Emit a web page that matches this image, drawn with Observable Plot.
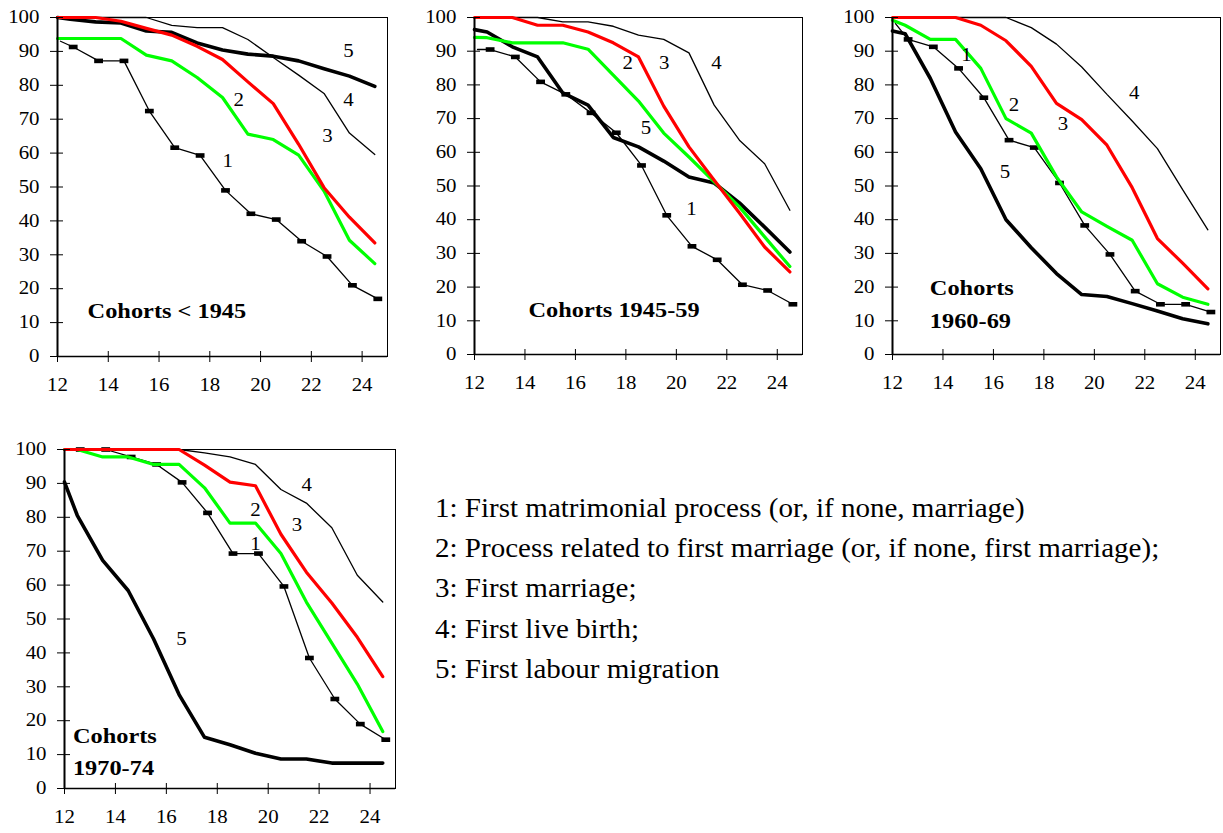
<!DOCTYPE html>
<html>
<head>
<meta charset="utf-8">
<script src="https://cdn.jsdelivr.net/npm/d3@7"></script>
<script src="https://cdn.jsdelivr.net/npm/@observablehq/plot@0.6"></script>
<style>
html, body { margin: 0; padding: 0; background: #fff; overflow: hidden; width: 1223px; height: 833px; }
#root { position: relative; width: 1223px; height: 833px; }
.panel { position: absolute; }
#legend { position: absolute; left: 435px; top: 488px; font-family: "Liberation Serif", "Times New Roman", serif; font-size: 27px; line-height: 40.2px; color: #000; white-space: nowrap; transform: scaleX(1.075); transform-origin: 0 0; }
</style>
</head>
<body>
<div id="root"><div id="legend"></div></div>
<script>
// ---------- shared axes ----------
const ages = [12, 12.5, 13.5, 14.5, 15.5, 16.5, 17.5, 18.5, 19.5, 20.5, 21.5, 22.5, 23.5, 24.5];
const xTicks = [12, 14, 16, 18, 20, 22, 24];
const yTicks = [0, 10, 20, 30, 40, 50, 60, 70, 80, 90, 100];
const seriesIds = ["1", "2", "3", "4", "5"];
const legendLines = [
  "1: First matrimonial process (or, if none, marriage)",
  "2: Process related to first marriage (or, if none, first marriage);",
  "3: First marriage;",
  "4: First live birth;",
  "5: First labour migration"
];

// ---------- Cohorts < 1945 ----------
const c1945_s1 = [93, 91.3, 87.2, 87.2, 72.4, 61.6, 59.3, 49, 42.1, 40.4, 34, 29.5, 21, 17];
const c1945_s2 = [93.8, 93.8, 93.8, 93.8, 88.9, 87.2, 82.3, 76.4, 65.6, 64, 59.4, 48.8, 34.3, 27.4];
const c1945_s3 = [100, 100, 100, 98.9, 96.8, 94.8, 91.5, 87.6, 81, 74.6, 62.6, 49.8, 41.1, 33.5];
const c1945_s4 = [100, 100, 100, 100, 100, 97.7, 97, 97, 93.5, 88.2, 83, 77.6, 65.9, 59.6];
const c1945_s5 = [100, 99.5, 98.7, 98.4, 96, 95.6, 92.5, 90.4, 89.2, 88.6, 87.2, 84.9, 82.7, 79.7];
const c1945_labelAge = [18.71, 19.14, 22.64, 23.46, 23.46];
const c1945_labelValue = [57.6, 75.6, 65, 75.6, 90.1];

// ---------- Cohorts 1945-59 ----------
const c4559_s1 = [90.5, 90.5, 88.3, 80.9, 77.2, 71.7, 65.8, 56.1, 41.3, 32.1, 28.1, 20.7, 19, 14.9];
const c4559_s2 = [94.1, 94, 92.5, 92.5, 92.5, 90.6, 82.9, 75.2, 65.7, 58.6, 51.2, 43.8, 34.9, 26.1];
const c4559_s3 = [100, 100, 100, 97.7, 97.7, 95.7, 92.5, 88.3, 73.7, 61.6, 51.7, 42, 31.9, 24.5];
const c4559_s4 = [100, 100, 100, 100, 98.7, 98.7, 97.4, 94.8, 93.5, 89.5, 74, 63.6, 56.6, 42.8];
const c4559_s5 = [96.4, 95.7, 91.3, 88.3, 77.6, 74, 64.4, 61.6, 57.4, 52.7, 50.9, 45, 37.8, 30.4];
const c4559_labelAge = [20.6, 18.07, 19.52, 21.59, 18.8];
const c4559_labelValue = [43, 86.3, 86.3, 86.3, 67.2];

// ---------- Cohorts 1960-69 ----------
const c6069_s1 = [98.2, 93.5, 91.3, 84.9, 76.2, 63.6, 61.4, 50.9, 38.3, 29.7, 18.8, 14.9, 14.9, 12.6];
const c6069_s2 = [99.2, 97.7, 93.5, 93.5, 84.9, 70, 65.7, 52.7, 42.3, 38, 33.9, 21, 17, 14.9];
const c6069_s3 = [100, 100, 100, 100, 97.7, 93.1, 85.5, 74.5, 69.7, 62.1, 49.5, 34.4, 27.1, 19.5];
const c6069_s4 = [100, 100, 100, 100, 100, 100, 97, 92.1, 85.3, 77.2, 69.3, 61.1, 48.9, 37];
const c6069_s5 = [96, 95.2, 81.9, 66, 55.1, 40, 31.7, 24, 17.8, 17.2, 15.1, 12.9, 10.6, 9.1];
const c6069_labelAge = [14.93, 16.81, 18.76, 21.58, 16.46];
const c6069_labelValue = [88.8, 74, 68.3, 77.6, 54.1];

// ---------- Cohorts 1970-74 ----------
const c7074_s1 = [100, 100, 100, 97.8, 95.6, 90.3, 81.3, 69.3, 69.3, 59.6, 38.5, 26.4, 19, 14.4];
const c7074_s2 = [100, 100, 97.8, 97.8, 95.6, 95.6, 88.7, 78.3, 78.3, 69.3, 55, 42.9, 30.8, 16.8];
const c7074_s3 = [100, 100, 100, 100, 100, 100, 95.4, 90.4, 89.3, 75, 63.8, 54.7, 44.6, 33];
const c7074_s4 = [100, 100, 100, 100, 100, 100, 99, 97.8, 95.6, 88.2, 84.2, 76.9, 62.9, 55];
const c7074_s5 = [90.4, 80.6, 67.3, 58.4, 44.1, 27.7, 15.1, 12.9, 10.4, 8.7, 8.7, 7.5, 7.5, 7.5];
const c7074_labelAge = [19.5, 19.5, 21.13, 21.51, 16.59];
const c7074_labelValue = [72.1, 82, 77.8, 89.4, 44.1];

// ---------- drawing ----------
const dashSymbol = {
  draw(ctx) {
    ctx.moveTo(-4.4, -2.3); ctx.lineTo(4.4, -2.3); ctx.lineTo(4.4, 2.3); ctx.lineTo(-4.4, 2.3); ctx.closePath();
  }
};
const FONT = '"Liberation Serif", "Times New Roman", serif';
const TEXT_STRETCH = 1.16;

function stretchTexts(svg, factor) {
  svg.querySelectorAll("text").forEach(t => {
    const tr = t.getAttribute("transform");
    if (tr && /translate/.test(tr)) {
      t.setAttribute("transform", tr + ` scale(${factor},1)`);
    } else {
      const x = +(t.getAttribute("x") || 0), y = +(t.getAttribute("y") || 0);
      t.setAttribute("x", 0); t.setAttribute("y", 0);
      t.setAttribute("transform", `translate(${x},${y}) scale(${factor},1)` + (tr ? " " + tr : ""));
    }
  });
}

function drawPanel(cfg) {
  const rows = [];
  cfg.series.forEach((vals, i) => vals.forEach((v, j) => rows.push({age: ages[j], value: v, s: i + 1})));
  const sel = k => rows.filter(d => d.s === k);
  const labels = seriesIds.map((t, i) => ({text: t, age: cfg.labelAge[i], value: cfg.labelValue[i]}));
  const chart = Plot.plot({
    width: cfg.width, height: cfg.height,
    marginLeft: cfg.ml, marginRight: cfg.mr, marginTop: cfg.mt, marginBottom: cfg.mb,
    x: {domain: [12, 25], label: null},
    y: {domain: [0, 100], label: null},
    style: {fontFamily: FONT, fontSize: "18px", color: "#000", background: "transparent", overflow: "visible"},
    marks: [
      Plot.frame({stroke: "#000", strokeWidth: 1}),
      Plot.line(sel(4), {x: "age", y: "value", stroke: "#000", strokeWidth: 1.3, strokeLinejoin: "miter"}),
      Plot.line(sel(1), {x: "age", y: "value", stroke: "#000", strokeWidth: 1.3, dx: 3, strokeLinejoin: "miter"}),
      Plot.dot(sel(1).slice(1), {x: "age", y: "value", symbol: dashSymbol, r: 3, fill: "#000", stroke: "none", dx: 3}),
      Plot.line(sel(5), {x: "age", y: "value", stroke: "#000", strokeWidth: 3.6}),
      Plot.line(sel(2), {x: "age", y: "value", stroke: "#00ff00", strokeWidth: 3.2}),
      Plot.line(sel(3), {x: "age", y: "value", stroke: "#ff0000", strokeWidth: 3.2}),
      Plot.ruleX([12], {stroke: "#000", strokeWidth: 2}),
      Plot.ruleY([0], {stroke: "#000", strokeWidth: 1.5}),
      Plot.axisY({ticks: yTicks, tickSize: 13, dx: 6, tickPadding: 11, label: null, fontSize: 18}),
      Plot.axisX({ticks: xTicks, tickSize: 11, dy: -5, tickPadding: 16, label: null, fontSize: 18}),
      Plot.text(labels, {x: "age", y: "value", text: "text", fontSize: 18, fill: "#000"}),
      Plot.text([cfg.title], {x: () => cfg.titleAge, y: () => cfg.titleValue, text: d => d,
        fontSize: 21, fontWeight: "bold", fill: "#000", textAnchor: cfg.titleAnchor, lineHeight: 1.55})
    ]
  });
  stretchTexts(chart, TEXT_STRETCH);
  chart.classList.add("panel");
  chart.style.left = cfg.left + "px";
  chart.style.top = cfg.top + "px";
  document.getElementById("root").appendChild(chart);
}

drawPanel({series: [c1945_s1, c1945_s2, c1945_s3, c1945_s4, c1945_s5], labelAge: c1945_labelAge, labelValue: c1945_labelValue,
  title: "Cohorts < 1945", titleAge: 16.31, titleValue: 14.4, titleAnchor: "middle",
  left: 0, top: 0, width: 400, height: 400, ml: 57, mr: 13, mt: 17, mb: 44});
drawPanel({series: [c4559_s1, c4559_s2, c4559_s3, c4559_s4, c4559_s5], labelAge: c4559_labelAge, labelValue: c4559_labelValue,
  title: "Cohorts 1945-59", titleAge: 17.53, titleValue: 14.3, titleAnchor: "middle",
  left: 410, top: 0, width: 400, height: 400, ml: 64, mr: 8, mt: 17, mb: 46});
drawPanel({series: [c6069_s1, c6069_s2, c6069_s3, c6069_s4, c6069_s5], labelAge: c6069_labelAge, labelValue: c6069_labelValue,
  title: "Cohorts\n1960-69", titleAge: 13.48, titleValue: 15.8, titleAnchor: "start",
  left: 830, top: 0, width: 393, height: 400, ml: 62, mr: 3, mt: 17, mb: 46});
drawPanel({series: [c7074_s1, c7074_s2, c7074_s3, c7074_s4, c7074_s5], labelAge: c7074_labelAge, labelValue: c7074_labelValue,
  title: "Cohorts\n1970-74", titleAge: 12.33, titleValue: 11.8, titleAnchor: "start",
  left: 0, top: 432, width: 400, height: 400, ml: 64, mr: 5, mt: 17, mb: 44});

const legend = document.getElementById("legend");
legendLines.forEach(t => { const d = document.createElement("div"); d.textContent = t; legend.appendChild(d); });
</script>
</body>
</html>
